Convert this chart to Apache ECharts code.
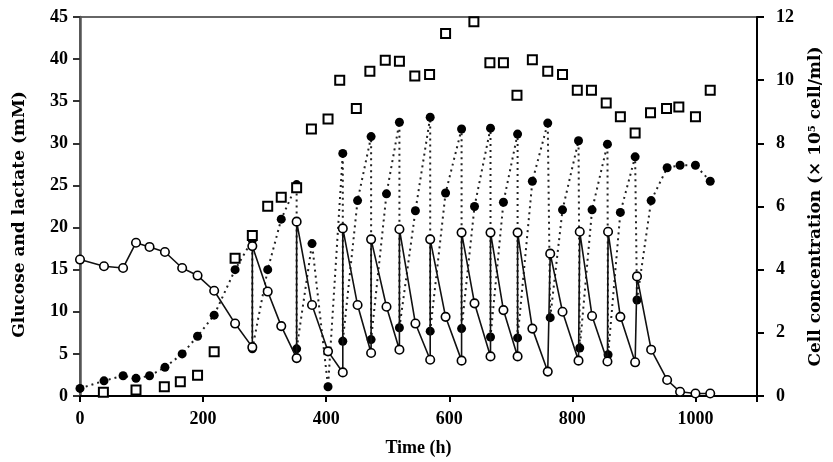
<!DOCTYPE html>
<html>
<head>
<meta charset="utf-8">
<script src="https://cdn.jsdelivr.net/npm/echarts@6/dist/echarts.min.js"></script>
<style>html,body{margin:0;padding:0;background:#fff;}#c{width:833px;height:462px;}</style>
</head>
<body>
<div id="c"></div>
<script>
var xTickLabels = ['0', '200', '400', '600', '800', '1000'];
var glucoseT = [0,39,70,91,113,138,166,191,218,252,280,280,305,327,352,352,377,403,427,427,451,473,473,498,519,519,545,569,569,594,620,620,641,667,667,688,711,711,735,760,764,784,810,812,832,857,858,878,902,905,928,954,975,1000,1024];
var glucoseV = [16.2,15.4,15.2,18.2,17.7,17.1,15.2,14.3,12.5,8.6,5.8,17.8,12.4,8.3,4.5,20.7,10.8,5.3,2.8,19.9,10.8,5.1,18.6,10.6,5.5,19.8,8.6,4.3,18.6,9.4,4.2,19.4,11.0,4.7,19.4,10.2,4.7,19.4,8.0,2.9,16.9,10.0,4.2,19.5,9.5,4.1,19.5,9.4,4.0,14.2,5.5,1.9,0.5,0.3,0.3];
var lactateT = [0,39,70,91,113,138,166,191,218,252,280,280,305,327,352,352,377,403,427,427,451,473,473,498,519,519,545,569,569,594,620,620,641,667,667,688,711,711,735,760,764,784,810,812,832,857,858,878,902,905,928,954,975,1000,1024];
var lactateV = [0.9,1.8,2.4,2.1,2.4,3.4,5.0,7.1,9.6,15.0,18.5,5.6,15.0,21.0,25.1,5.6,18.1,1.1,28.8,6.5,23.2,30.8,6.7,24.0,32.5,8.1,22.0,33.1,7.7,24.1,31.7,8.0,22.5,31.8,7.0,23.0,31.1,6.9,25.5,32.4,9.3,22.1,30.3,5.7,22.1,29.9,4.9,21.8,28.4,11.4,23.2,27.1,27.4,27.4,25.5];
var cellT = [38,91,137,163,191,218,252,280,305,327,352,376,403,422,449,471,496,519,544,568,594,640,666,688,710,735,760,784,808,831,855,878,902,927,953,973,1000,1024];
var cellV = [0.12,0.19,0.29,0.45,0.66,1.40,4.36,5.08,6.01,6.29,6.59,8.45,8.77,10.0,9.10,10.28,10.63,10.60,10.13,10.18,11.48,11.85,10.55,10.55,9.52,10.65,10.28,10.18,9.68,9.68,9.28,8.84,8.33,8.97,9.10,9.15,8.84,9.68];

function zip(a, b) { return a.map(function (v, i) { return [v, b[i]]; }); }

var labelFont = { color: '#000', fontFamily: 'Liberation Serif', fontWeight: 'bold', fontSize: 18 };
var nameFont = { color: '#000', fontFamily: 'DejaVu Serif', fontWeight: 'bold', fontSize: 17 };

var chart = echarts.init(document.getElementById('c'), null, { renderer: 'canvas' });
chart.setOption({
  animation: false,
  backgroundColor: '#fff',
  grid: { left: 80, right: 76, top: 17, bottom: 66, show: true, borderColor: '#666', borderWidth: 2, backgroundColor: 'transparent' },
  xAxis: {
    type: 'value', min: 0, max: 1100, interval: 200,
    name: 'Time (h)', nameLocation: 'middle', nameGap: 43,
    nameTextStyle: Object.assign({}, nameFont, { fontFamily: 'Liberation Serif', fontSize: 18 }),
    axisLine: { show: true, lineStyle: { color: '#000', width: 2 } },
    axisTick: { show: true, length: 6, lineStyle: { color: '#000', width: 2 } },
    axisLabel: Object.assign({
      margin: 14,
      formatter: function (v) { return xTickLabels.indexOf(String(v)) >= 0 ? String(v) : ''; }
    }, labelFont),
    splitLine: { show: false }
  },
  yAxis: [
    {
      type: 'value', min: 0, max: 45, interval: 5, position: 'left',
      name: 'Glucose and lactate (mM)', nameLocation: 'middle', nameGap: 52, nameRotate: 90,
      nameTextStyle: Object.assign({ padding: [0, 16, 0, 0] }, nameFont),
      axisLine: { show: true, lineStyle: { color: '#555', width: 2.5 } },
      axisTick: { show: true, length: 7, lineStyle: { color: '#333', width: 2 } },
      axisLabel: Object.assign({ margin: 12 }, labelFont),
      splitLine: { show: false }
    },
    {
      type: 'value', min: 0, max: 12, interval: 2, position: 'right',
      name: 'Cell concentration (× 10{sup|5} cell/ml)', nameLocation: 'middle', nameGap: 50, nameRotate: 90,
      nameTextStyle: Object.assign({ rich: { sup: { fontFamily: 'DejaVu Serif', fontWeight: 'bold', fontSize: 10, verticalAlign: 'top', padding: [0, 0, 8, 0] } } }, nameFont),
      axisLine: { show: true, lineStyle: { color: '#000', width: 2 } },
      axisTick: { show: true, inside: false, length: 7, lineStyle: { color: '#000', width: 2 } },
      axisLabel: Object.assign({ margin: 19 }, labelFont),
      splitLine: { show: false }
    }
  ],
  series: [
    {
      name: 'Lactate', type: 'line', yAxisIndex: 0, z: 2,
      data: zip(lactateT, lactateV),
      symbol: 'circle', symbolSize: 9,
      itemStyle: { color: '#000' },
      lineStyle: { color: '#222', width: 2, type: [2, 4] }
    },
    {
      name: 'Glucose', type: 'line', yAxisIndex: 0, z: 3,
      data: zip(glucoseT, glucoseV),
      symbol: 'circle', symbolSize: 8.5,
      itemStyle: { color: '#fff', borderColor: '#000', borderWidth: 1.6 },
      lineStyle: { color: '#111', width: 1.6 }
    },
    {
      name: 'Cells', type: 'scatter', yAxisIndex: 1, z: 4,
      data: zip(cellT, cellV),
      symbol: 'rect', symbolSize: 9,
      itemStyle: { color: '#fff', borderColor: '#000', borderWidth: 2, opacity: 1 }
    }
  ]
});
</script>
</body>
</html>
